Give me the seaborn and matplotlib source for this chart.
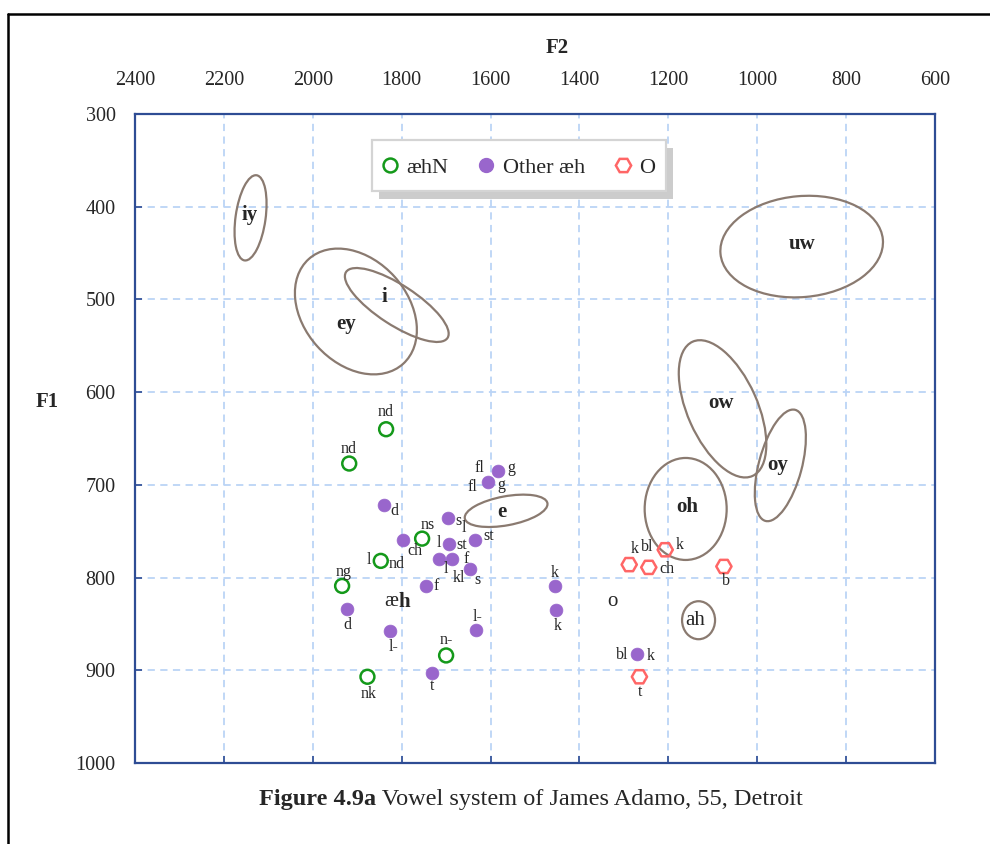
import numpy as np
import pandas as pd
import matplotlib
matplotlib.use("Agg")
import matplotlib.pyplot as plt
import seaborn as sns
from matplotlib.patches import Ellipse, Rectangle
from matplotlib.lines import Line2D
from matplotlib.legend_handler import HandlerLine2D
import matplotlib.transforms as mtransforms

# ---------------- data ----------------
aehN_F2 = [1835, 1918, 1754, 1847, 1934, 1700, 1877]
aehN_F1 = [640, 677, 758, 782, 809, 884, 907]
aehN_labels = [["nd"], ["nd"], ["ns"], ["l", "nd"], ["ng"], ["n-"], ["nk"]]

other_F2 = [1584, 1606, 1840, 1696, 1636, 1694, 1798, 1716, 1686, 1647,
            1745, 1924, 1827, 1633, 1732, 1455, 1452, 1270]
other_F1 = [685, 697, 722, 736, 760, 764, 759, 780, 780, 791,
            809, 834, 858, 857, 903, 809, 835, 882]
other_labels = [["fl", "g"], ["fl", "g"], ["d"], ["s"], ["st", "l"], ["l", "st"],
                ["ch"], ["l"], ["f"], ["kl", "s"], ["f"], ["d"], ["l-"], ["l-"],
                ["t"], ["k"], ["k"], ["bl", "k"]]

O_F2 = [1288, 1244, 1207, 1075, 1265]
O_F1 = [786, 789, 770, 788, 907]
O_labels = [["k"], ["bl", "ch"], ["k"], ["b"], ["t"]]

vowels = ["iy", "i", "ey", "e", "uw", "ow", "oy", "oh", "ah"]
ell_F2 = [2140, 1811, 1903, 1565, 900, 1078, 948, 1161, 1132]
ell_F1 = [412, 506, 513, 728, 443, 618, 679, 726, 846]
vlabel_F2 = [2141, 1839, 1924, 1574, 900, 1082, 953, 1157, 1140]
vlabel_F1 = [409, 497, 526, 729, 440, 612, 679, 724, 846]

extra_labels = ["æh", "o"]
extra_F2 = [1808, 1325]
extra_F1 = [826, 826]

x_ticks = [2400, 2200, 2000, 1800, 1600, 1400, 1200, 1000, 800, 600]
y_ticks = [300, 400, 500, 600, 700, 800, 900, 1000]
legend_names = ["æhN", "Other æh", "O"]

# ---------------- styles / positions ----------------
aehN_off = [[(0, -17)], [(-1, -15)], [(6, -14)], [(-12, -1), (16, 3)],
            [(1, -14)], [(0, -15)], [(1, 17)]]
other_off = [[(-18, -3), (14, -3)], [(-15, 5), (13, 3)], [(10, 6)], [(11, 3)],
             [(14, -4), (-11, -12)], [(-10, -1), (13, 1)], [(12, 11)], [(7, 10)],
             [(14, 0)], [(-11, 9), (8, 11)], [(10, 0)], [(1, 16)], [(4, 16)],
             [(2, -13)], [(0, 13)], [(0, -13)], [(1, 16)], [(-15, 1), (13, 2)]]
O_off = [[(5, -16)], [(-2, -20), (18, 2)], [(14, -5)], [(2, 15)], [(1, 15)]]

ell_w = [86, 121, 141, 84, 163, 147, 115, 82, 33]
ell_h = [30, 40, 104, 29, 101, 70, 43, 102, 38]
ell_ang = [82, -33, -48, 10.5, 5, -66, 75, 0, 0]

GREEN = "#14991A"
PURPLE = "#9966CC"
RED = "#FF6666"
ELL = "#8A7A70"
SPINE = "#2E4C94"
GRID = "#BBD4F6"

sns.set_style("white")
plt.rcParams["font.family"] = ["Liberation Serif", "DejaVu Serif"]

fig = plt.figure(figsize=(9.9, 8.44), dpi=100)
ax = fig.add_axes([135 / 990, 81 / 844, 800 / 990, 649 / 844])

df_n = pd.DataFrame({"F2": aehN_F2, "F1": aehN_F1})
df_o = pd.DataFrame({"F2": other_F2, "F1": other_F1})
df_O = pd.DataFrame({"F2": O_F2, "F1": O_F1})

sns.scatterplot(data=df_n, x="F2", y="F1", marker="o", s=100, facecolor="none",
                edgecolor=GREEN, linewidth=1.8, ax=ax, legend=False, zorder=4)
sns.scatterplot(data=df_o, x="F2", y="F1", marker="o", s=85, color=PURPLE,
                edgecolor=PURPLE, linewidth=0.5, ax=ax, legend=False, zorder=4)
sns.scatterplot(data=df_O, x="F2", y="F1", marker="H", s=120, facecolor="none",
                edgecolor=RED, linewidth=1.8, ax=ax, legend=False, zorder=4)

def put_labels(F2s, F1s, labs, offs):
    for f2, f1, ls, os_ in zip(F2s, F1s, labs, offs):
        for t, (dx, dy) in zip(ls, os_):
            ax.annotate(t, xy=(f2, f1), xytext=(dx, -dy), textcoords="offset pixels",
                        ha="center", va="center", fontsize=11.5, zorder=5)

put_labels(aehN_F2, aehN_F1, aehN_labels, aehN_off)
put_labels(other_F2, other_F1, other_labels, other_off)
put_labels(O_F2, O_F1, O_labels, O_off)

for v, cx, cy, lx, ly, w, h, a in zip(vowels, ell_F2, ell_F1, vlabel_F2, vlabel_F1,
                                       ell_w, ell_h, ell_ang):
    tr = mtransforms.ScaledTranslation(cx, cy, ax.transData)
    e = Ellipse((0, 0), w, h, angle=a, transform=tr, fill=False, edgecolor=ELL,
                linewidth=1.6, zorder=3)
    ax.add_patch(e)
    ax.text(lx, ly, v, ha="center", va="center", fontsize=15,
            fontweight="normal" if v == "ah" else "bold", zorder=5)

# æh : æ regular + h bold ; o regular
ax.text(extra_F2[0], extra_F1[0], extra_labels[0][0], ha="right", va="center",
        fontsize=15, zorder=5)
ax.text(extra_F2[0], extra_F1[0], extra_labels[0][1], ha="left", va="center",
        fontsize=15, fontweight="bold", zorder=5)
ax.text(extra_F2[1], extra_F1[1], extra_labels[1], ha="center", va="center",
        fontsize=15, zorder=5)

ax.set_xlim(2400, 600)
ax.set_ylim(1000, 300)
ax.set_xticks(x_ticks)
ax.set_yticks(y_ticks)
ax.set_xticklabels([str(t) for t in x_ticks])
ax.set_yticklabels([str(t) for t in y_ticks])
ax.set_xlabel("")
ax.set_ylabel("")
ax.grid(True, color=GRID, linestyle=(0, (4, 3)), linewidth=1.3)
ax.set_axisbelow(True)
for s in ax.spines.values():
    s.set_visible(True)
    s.set_color(SPINE)
    s.set_linewidth(1.6)
ax.tick_params(axis="x", top=False, bottom=True, labeltop=True, labelbottom=False,
               direction="in", length=5, width=1.2, color=SPINE, pad=17,
               labelsize=14.5)
ax.tick_params(axis="y", left=True, right=False, direction="in", length=5,
               width=1.2, color=SPINE, pad=14, labelsize=14.5)


class LoweredHandler(HandlerLine2D):
    """Line2D legend handler that draws the marker slightly lower."""
    def create_artists(self, legend, orig_handle, xdescent, ydescent, width,
                       height, fontsize, trans):
        arts = super().create_artists(legend, orig_handle, xdescent, ydescent,
                                      width, height, fontsize, trans)
        for a in arts:
            a.set_ydata(np.asarray(a.get_ydata(), dtype=float) - 2.4)
        return arts


handles = [
    Line2D([], [], ls="", marker="o", ms=10, mfc="none", mec=GREEN, mew=1.8),
    Line2D([], [], ls="", marker="o", ms=10, mfc=PURPLE, mec=PURPLE),
    Line2D([], [], ls="", marker="H", ms=11, mfc="none", mec=RED, mew=1.8),
]
leg = ax.legend(handles, legend_names, loc="upper left", bbox_to_anchor=(0.296, 0.96),
                borderaxespad=0, ncol=3, prop={"size": 16}, frameon=True,
                fancybox=False, edgecolor="#D4D4D4", framealpha=1, borderpad=0.5,
                handletextpad=0.45, columnspacing=1.4, handlelength=0.6,
                handleheight=1.6, handler_map={Line2D: LoweredHandler()})
leg.get_frame().set_linewidth(1.6)
leg.set_zorder(10)

fig.text(557 / 990, 1 - 48 / 844, "F2", ha="center", va="center", fontsize=15,
         fontweight="bold")
fig.text(47 / 990, 1 - 402 / 844, "F1", ha="center", va="center", fontsize=15,
         fontweight="bold")
cap = fig.text(259 / 990, 1 - 800 / 844, "Figure 4.9a", ha="left", va="center",
               fontsize=17.5, fontweight="bold")
cap2 = fig.text(0, 0, " Vowel system of James Adamo, 55, Detroit", fontsize=17.5,
                ha="left", va="center")

# outer page frame
fig.add_artist(Line2D([8 / 990, 1], [1 - 14 / 844, 1 - 14 / 844],
                      transform=fig.transFigure, color="black", lw=1.8))
fig.add_artist(Line2D([8 / 990, 8 / 990], [0, 1 - 14 / 844],
                      transform=fig.transFigure, color="black", lw=1.8))

fig.canvas.draw()
# place caption second part right after bold part
bb = cap.get_window_extent()
cap2.set_position((bb.x1 / 990, 1 - 800 / 844))
# legend shadow
lb = leg.get_window_extent()
sh = Rectangle((lb.x0 + 7, lb.y0 - 8), lb.width, lb.height,
               transform=mtransforms.IdentityTransform(), facecolor="#CCCCCC",
               edgecolor="none", zorder=9, clip_on=False)
ax.add_artist(sh)

fig.savefig("out.png", dpi=100)
